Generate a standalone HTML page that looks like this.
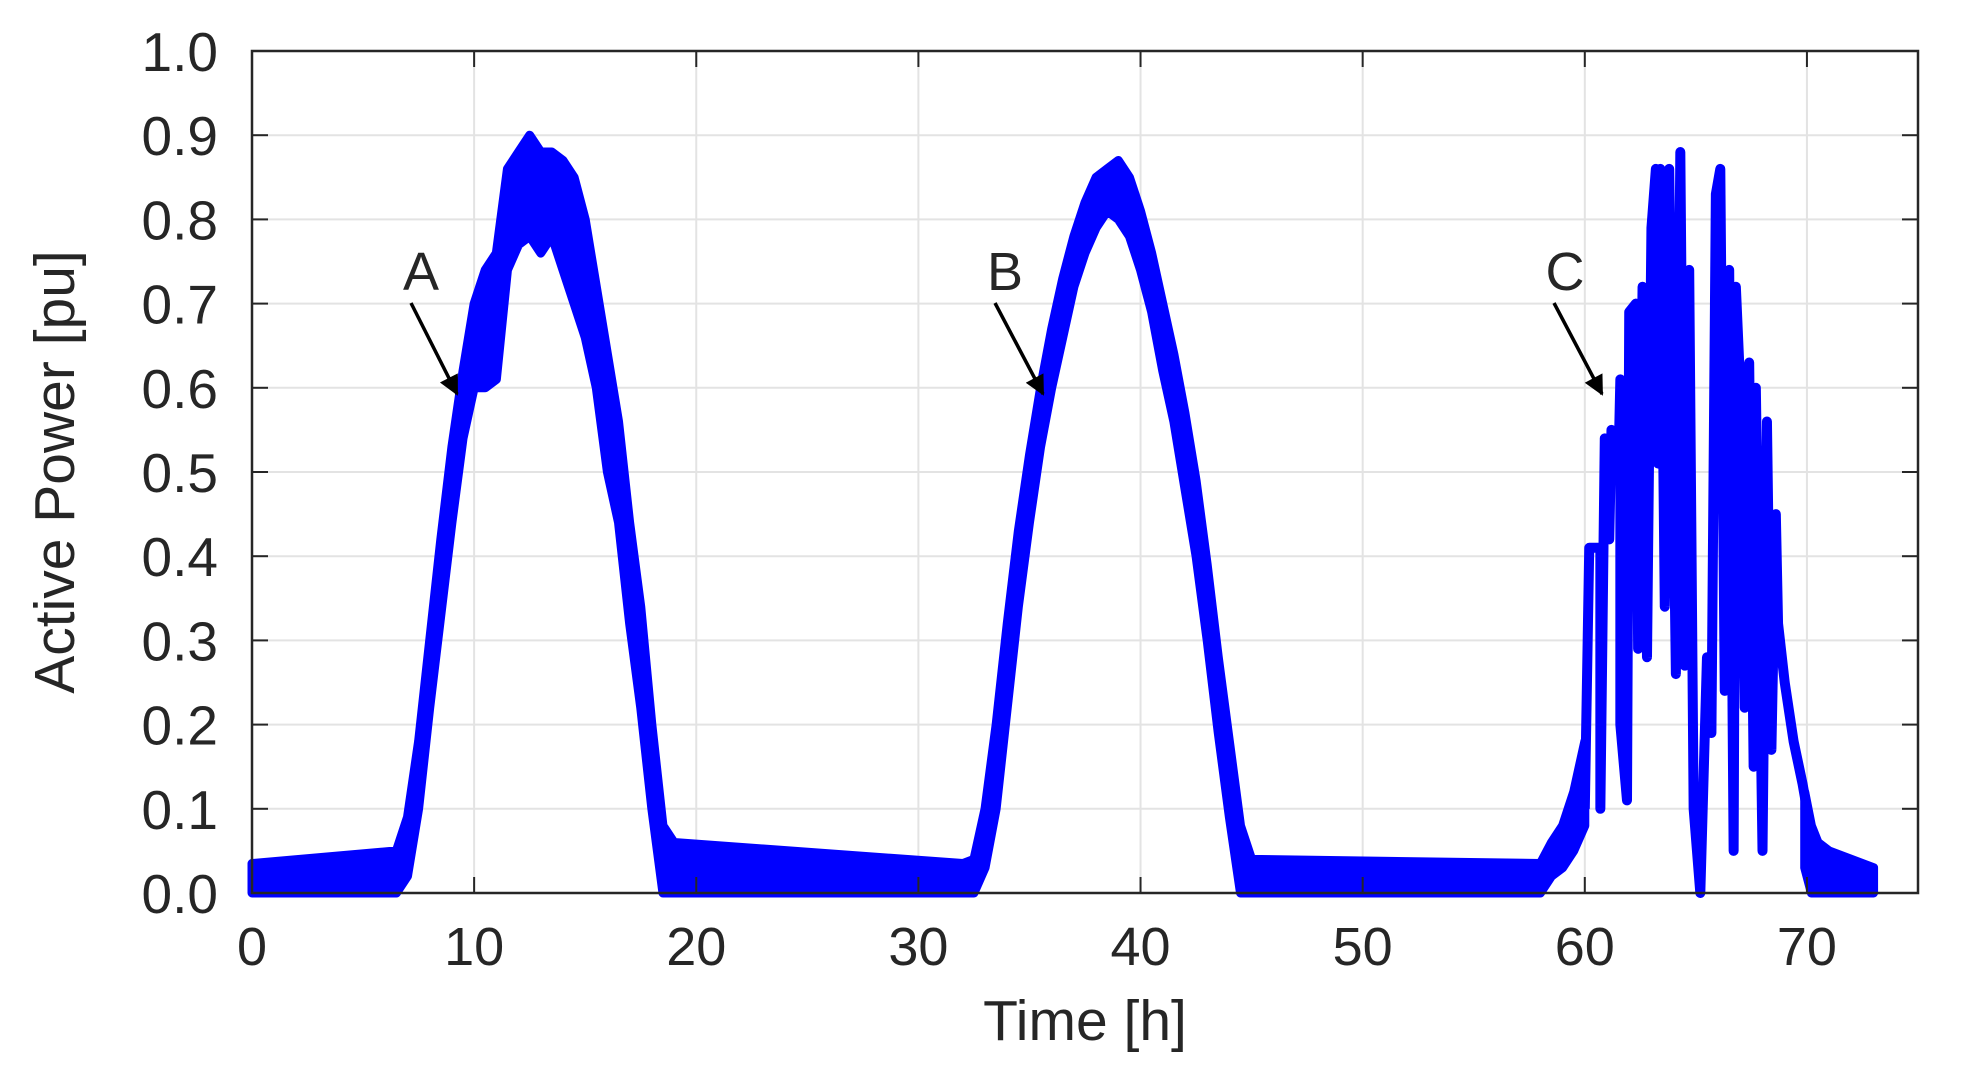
<!DOCTYPE html>
<html><head><meta charset="utf-8"><style>
html,body{margin:0;padding:0;background:#fff;}
svg text{font-family:"Liberation Sans",Arial,sans-serif;fill:#262626;}
</style></head><body>
<svg id="chart" width="1964" height="1080" viewBox="0 0 1964 1080" xmlns="http://www.w3.org/2000/svg">
<g id="grid"></g>
<g id="series"></g>
<g id="axes"></g>
<g id="ann"></g>
<text x="0" y="0" font-size="57" text-anchor="middle" transform="translate(74,472) rotate(-90)">Active Power [pu]</text>
<text x="1085" y="1040" font-size="57" text-anchor="middle">Time [h]</text>
</svg>
<script>
const xTicks=[0,10,20,30,40,50,60,70];
const yTicks=[0,0.1,0.2,0.3,0.4,0.5,0.6,0.7,0.8,0.9,1.0];
const bandT=[0,6.5,7,7.5,8,8.5,9,9.5,10,10.5,11,11.5,12,12.5,13,13.5,14,14.5,15,15.5,16,16.5,17,17.5,18,18.5,19,32,32.5,33,33.5,34,34.5,35,35.5,36,36.5,37,37.5,38,38.5,39,39.5,40,40.5,41,41.5,42,42.5,43,43.5,44,44.5,45,58,58.5,59,59.5,60];
const bandLo=[0,0,0.02,0.10,0.22,0.33,0.44,0.54,0.60,0.60,0.61,0.74,0.77,0.78,0.76,0.78,0.74,0.70,0.66,0.60,0.50,0.44,0.32,0.22,0.10,0,0,0,0,0.03,0.10,0.22,0.34,0.44,0.53,0.60,0.66,0.72,0.76,0.79,0.81,0.80,0.78,0.74,0.69,0.62,0.56,0.48,0.40,0.30,0.19,0.09,0,0,0,0.02,0.03,0.05,0.08];
const bandHi=[0.035,0.05,0.09,0.18,0.30,0.42,0.53,0.62,0.70,0.74,0.76,0.86,0.88,0.90,0.88,0.88,0.87,0.85,0.80,0.72,0.64,0.56,0.44,0.34,0.20,0.08,0.06,0.035,0.04,0.10,0.20,0.32,0.43,0.52,0.60,0.67,0.73,0.78,0.82,0.85,0.86,0.87,0.85,0.81,0.76,0.70,0.64,0.57,0.49,0.39,0.28,0.18,0.08,0.04,0.035,0.06,0.08,0.12,0.18];
const tailT=[69.9,70.2,70.5,71,72,73];
const tailLo=[0.03,0,0,0,0,0];
const tailHi=[0.12,0.08,0.06,0.05,0.04,0.03];
const cT=[60,60.2,60.7,60.7,60.9,61.1,61.2,61.5,61.6,61.6,61.9,62,62.3,62.4,62.6,62.8,63,63.2,63.3,63.4,63.6,63.8,64.1,64.3,64.5,64.7,64.9,65.2,65.5,65.7,65.9,66.1,66.3,66.5,66.7,66.8,67,67.2,67.4,67.6,67.7,68,68.2,68.4,68.6,68.7,69,69.4,69.8,70,70.3];
const cP=[0.10,0.41,0.41,0.10,0.54,0.42,0.55,0.49,0.61,0.20,0.11,0.69,0.70,0.29,0.72,0.28,0.79,0.86,0.51,0.86,0.34,0.86,0.26,0.88,0.27,0.74,0.10,0.0,0.28,0.19,0.83,0.86,0.24,0.74,0.05,0.72,0.60,0.22,0.63,0.15,0.60,0.05,0.56,0.17,0.45,0.32,0.25,0.18,0.13,0.10,0.06];
const X0=252,X1=1918,Y0=893,Y1=51,XMAX=75;
function sx(t){return X0+(X1-X0)*t/XMAX;}
function sy(v){return Y0-(Y0-Y1)*v;}
const NS='http://www.w3.org/2000/svg';
function mk(tag,attrs,parent){const e=document.createElementNS(NS,tag);for(const k in attrs)e.setAttribute(k,attrs[k]);parent.appendChild(e);return e;}
const grid=document.getElementById('grid'),axes=document.getElementById('axes'),ser=document.getElementById('series'),ann=document.getElementById('ann');
xTicks.forEach(t=>{
 const g=mk('line',{x1:sx(t),x2:sx(t),y1:Y1,y2:Y0,stroke:'#e3e3e3','stroke-width':2},grid);
 
 
 const tk=mk('line',{x1:sx(t),x2:sx(t),y1:Y0,y2:Y0-16,stroke:'#262626','stroke-width':2},axes);
 
 
 const tk2=mk('line',{x1:sx(t),x2:sx(t),y1:Y1,y2:Y1+16,stroke:'#262626','stroke-width':2},axes);
 
 
 const lb=mk('text',{x:sx(t),y:965,'font-size':54,'text-anchor':'middle'},axes);lb.textContent=String(t);
 
 
});
yTicks.forEach(v=>{
 const g=mk('line',{x1:X0,x2:X1,y1:sy(v),y2:sy(v),stroke:'#e3e3e3','stroke-width':2},grid);
 
 
 const tk=mk('line',{x1:X0,x2:X0+16,y1:sy(v),y2:sy(v),stroke:'#262626','stroke-width':2},axes);
 
 
 const tk2=mk('line',{x1:X1,x2:X1-16,y1:sy(v),y2:sy(v),stroke:'#262626','stroke-width':2},axes);
 
 
 const lb=mk('text',{x:218,y:sy(v)+20,'font-size':55,'text-anchor':'end'},axes);lb.textContent=v.toFixed(1);
 
 
});
const box=mk('rect',{x:X0,y:Y1,width:X1-X0,height:Y0-Y1,fill:'none',stroke:'#262626','stroke-width':2.5},axes);


function band(T,L,H,name){
 let d='M'+T.map((t,i)=>sx(t)+','+sy(H[i])).join(' L');
 for(let i=T.length-1;i>=0;i--)d+=' L'+sx(T[i])+','+sy(L[i]);
 d+='Z';
 const p=mk('path',{d:d,fill:'#0000ff',stroke:'#0000ff','stroke-width':9,'stroke-linejoin':'round'},ser);
 
 
}
band(bandT,bandLo,bandHi,'power-band');
band(tailT,tailLo,tailHi,'power-band-tail');
const cl=mk('polyline',{points:cT.map((t,i)=>sx(t)+','+sy(cP[i])).join(' '),fill:'none',stroke:'#0000ff','stroke-width':10,'stroke-linejoin':'round'},ser);


const defs=mk('defs',{},ann);
const mkr=mk('marker',{id:'ah',viewBox:'0 0 10 10',markerWidth:26,markerHeight:20,refX:9,refY:5,orient:'auto',markerUnits:'userSpaceOnUse'},defs);
mk('path',{d:'M0,0 L10,5 L0,10 Z',fill:'#000'},mkr);
[['A',421,411,457],['B',1005,995,1043],['C',1565,1554,1602]].forEach(a=>{
 const t=mk('text',{x:a[1],y:290,'font-size':54,'text-anchor':'middle',fill:'#000'},ann);t.textContent=a[0];
 
 
 const l=mk('line',{x1:a[2],y1:303,x2:a[3],y2:394,stroke:'#000','stroke-width':3.5,'marker-end':'url(#ah)'},ann);
 
 
});
</script>
</body></html>
